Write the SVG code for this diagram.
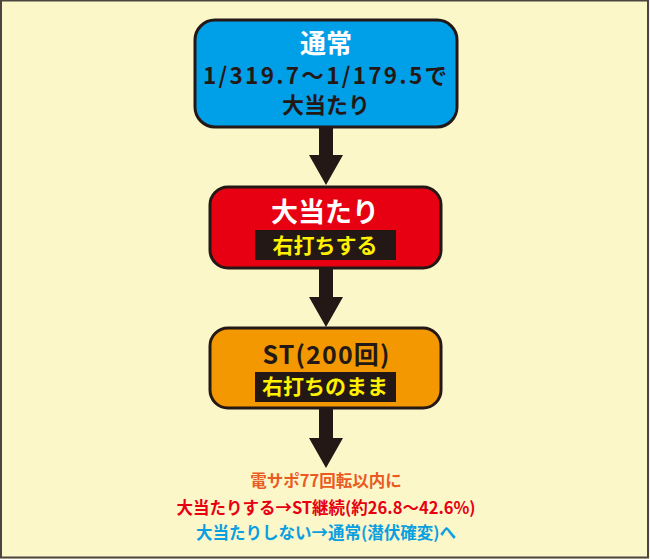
<svg xmlns="http://www.w3.org/2000/svg" width="650" height="559" viewBox="0 0 650 559">
<style>
text{font-family:"Noto Sans CJK JP","Noto Sans",sans-serif;font-weight:700;text-anchor:middle}
.box{stroke:#231815;stroke-width:3}
.dk{fill:#231815}
.wh{fill:#ffffff}
.yl{fill:#fff100}
</style>
<defs>
<path id="arr" d="M-7,0 H7 V30 H17 L0,60 L-17,30 H-7 Z" fill="#231815"/>
</defs>
<rect x="0" y="0" width="650" height="559" fill="#fcf7c9"/>
<rect x="1" y="0.5" width="647" height="557" fill="none" stroke="#4a4540" stroke-width="2"/>
<g id="connectors">
<use href="#arr" x="326" y="125"/>
<use href="#arr" x="326" y="267"/>
<use href="#arr" x="326" y="408"/>
</g>
<g id="node1">
<rect class="box" x="195" y="20" width="262" height="107" rx="20" fill="#00a0e9"/>
<text class="wh" x="326" y="53" font-size="26">通常</text>
<text class="dk" x="325" y="84" font-size="22.5" textLength="244" lengthAdjust="spacing">1/319.7～1/179.5で</text>
<text class="dk" x="326" y="113" font-size="22">大当たり</text>
</g>
<g id="node2">
<rect class="box" x="210" y="187" width="231" height="81" rx="18" fill="#e60012"/>
<text class="wh" x="325" y="222" font-size="27">大当たり</text>
<rect x="255" y="230" width="141" height="30" fill="#231815"/>
<text class="yl" x="325" y="253" font-size="21">右打ちする</text>
</g>
<g id="node3">
<rect class="box" x="210" y="328" width="231" height="80" rx="18" fill="#f39800"/>
<text class="dk" x="326" y="364" font-size="25" textLength="127" lengthAdjust="spacing">ST(200回)</text>
<rect x="255" y="372" width="141" height="30" fill="#231815"/>
<text class="yl" x="325" y="394" font-size="21">右打ちのまま</text>
</g>
<g id="notes">
<text x="326" y="487" font-size="16.5" fill="#ea5b23">電サポ77回転以内に</text>
<text x="326" y="514" font-size="16.5" fill="#e60012">大当たりする→ST継続(約26.8～42.6%)</text>
<text x="326" y="539" font-size="16.5" fill="#0a9fe0">大当たりしない→通常(潜伏確変)へ</text>
</g>
</svg>
